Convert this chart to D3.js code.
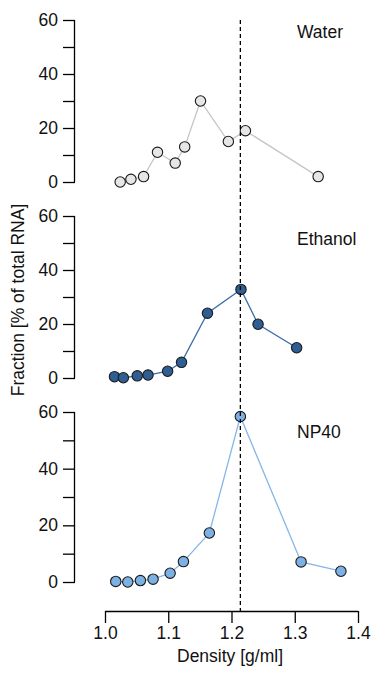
<!DOCTYPE html>
<html><head><meta charset="utf-8">
<script src="https://cdn.jsdelivr.net/npm/d3@7"></script>
<style>body{margin:0;background:#fff;}svg{display:block;font-family:"Liberation Sans",Arial,sans-serif;}</style>
</head><body>
<svg id="c" width="373" height="677"></svg>
<script>
const panelNames = ["Water", "Ethanol", "NP40"];
const waterDensity = [1.024, 1.041, 1.061, 1.083, 1.111, 1.126, 1.151, 1.195, 1.222, 1.337];
const waterFraction = [0, 1, 2, 11, 7, 13, 30, 15, 19, 2];
const ethanolDensity = [1.015, 1.029, 1.051, 1.068, 1.099, 1.121, 1.162, 1.215, 1.242, 1.303];
const ethanolFraction = [0.5, 0.1, 0.8, 1.1, 2.5, 5.8, 24, 32.8, 19.9, 11.2];
const np40Density = [1.017, 1.036, 1.056, 1.076, 1.103, 1.124, 1.165, 1.214, 1.31, 1.373];
const np40Fraction = [0.2, 0, 0.5, 1, 3.1, 7.2, 17.3, 58.4, 7.1, 3.8];
const yTicks = [0, 20, 40, 60];
const yMinorTicks = [10, 30, 50];
const xTicks = [1.0, 1.1, 1.2, 1.3, 1.4];
const peakDensity = 1.214;

const fills = ["#e6e6e6", "#2e5e93", "#7db1e4"];
const lineColors = ["#c6c6c6", "#3b6ea6", "#86b6e8"];
const series = [
  {x: waterDensity, y: waterFraction},
  {x: ethanolDensity, y: ethanolFraction},
  {x: np40Density, y: np40Fraction}
];
const panelTop = [20, 216, 412];
const panelBottom = [182, 378, 582];
const labelBaseline = [38, 245, 438];
const FS = 17.5;

const svg = d3.select("#c");
const x = d3.scaleLinear().domain([1.0, 1.4]).range([105, 358]);
const axisX = 75;

series.forEach((s, i) => {
  const y = d3.scaleLinear().domain([0, 60]).range([panelBottom[i], panelTop[i]]);
  const g = svg.append("g");
  const ax = g.append("g").attr("transform", `translate(${axisX},0)`)
    .call(d3.axisLeft(y).tickValues(yTicks).tickSize(12).tickPadding(5).tickFormat(d3.format("d")));
  ax.select(".domain").attr("stroke", "#000").attr("stroke-width", 1.3).attr("d", `M-0.5,${y(0)}V${y(60)}`);
  ax.selectAll(".tick line").attr("stroke", "#000").attr("stroke-width", 1.3);
  ax.selectAll(".tick text").attr("font-size", FS).attr("fill", "#111").attr("font-family", "Liberation Sans, Arial, sans-serif");
  const mn = g.append("g").attr("transform", `translate(${axisX},0)`)
    .call(d3.axisLeft(y).tickValues(yMinorTicks).tickSize(12).tickFormat(""));
  mn.select(".domain").remove();
  mn.selectAll(".tick line").attr("stroke", "#000").attr("stroke-width", 1.3);

  const pts = s.x.map((d, k) => [d, s.y[k]]);
  g.append("path").datum(pts)
    .attr("fill", "none").attr("stroke", lineColors[i]).attr("stroke-width", 1.3)
    .attr("d", d3.line().x(d => x(d[0])).y(d => y(d[1])));
  g.selectAll("circle").data(pts).join("circle")
    .attr("cx", d => x(d[0])).attr("cy", d => y(d[1])).attr("r", 5.2)
    .attr("fill", fills[i]).attr("stroke", "#1a1a1a").attr("stroke-width", 1.1);

  g.append("text").attr("x", 297).attr("y", labelBaseline[i])
    .attr("font-size", FS).attr("fill", "#111").text(panelNames[i]);
});

svg.append("line").attr("x1", x(peakDensity)).attr("x2", x(peakDensity))
  .attr("y1", 20).attr("y2", 611).attr("stroke", "#000").attr("stroke-width", 1.3)
  .attr("stroke-dasharray", "4,3");

const xa = svg.append("g").attr("transform", "translate(0,611)")
  .call(d3.axisBottom(x).tickValues(xTicks).tickSize(12).tickPadding(4).tickFormat(d3.format(".1f")));
xa.select(".domain").attr("stroke", "#000").attr("stroke-width", 1.3).attr("d", `M${x(1.0)},0.5H${x(1.4)}`);
xa.selectAll(".tick line").attr("stroke", "#000").attr("stroke-width", 1.3);
xa.selectAll(".tick text").attr("font-size", FS).attr("fill", "#111").attr("font-family", "Liberation Sans, Arial, sans-serif");

svg.append("text").attr("x", 230).attr("y", 662).attr("text-anchor", "middle")
  .attr("font-size", FS).attr("fill", "#111").text("Density [g/ml]");
svg.append("text").attr("transform", "translate(24,300) rotate(-90)").attr("text-anchor", "middle")
  .attr("font-size", FS).attr("fill", "#111").text("Fraction [% of total RNA]");
</script>
</body></html>
